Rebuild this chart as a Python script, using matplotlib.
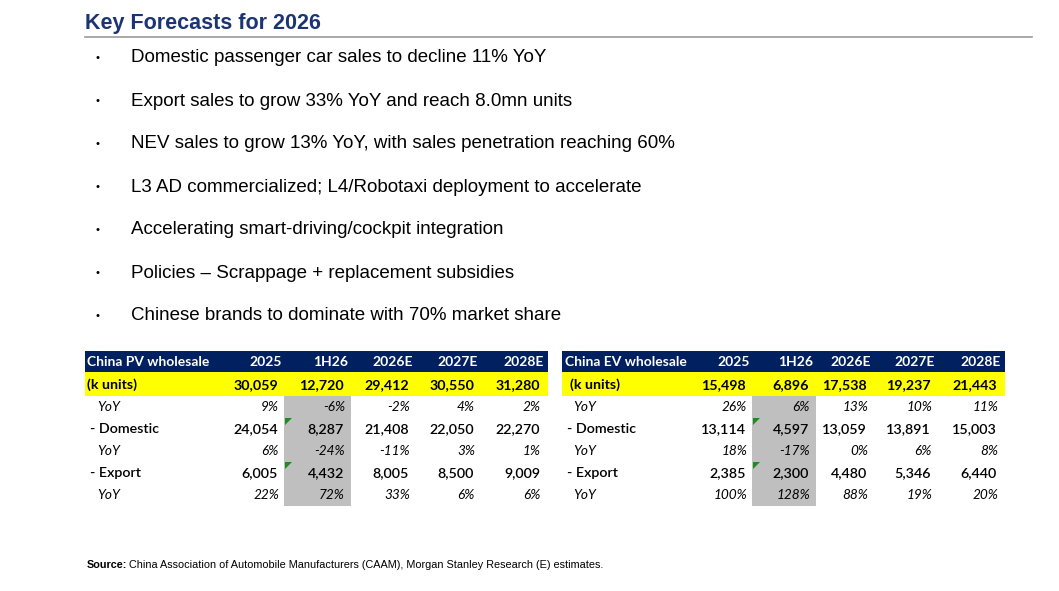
import matplotlib
matplotlib.use('Agg')
import matplotlib.pyplot as plt
from matplotlib.patches import Rectangle, Polygon

title = 'Key Forecasts for 2026'
bullets = [
    'Domestic passenger car sales to decline 11% YoY',
    'Export sales to grow 33% YoY and reach 8.0mn units',
    'NEV sales to grow 13% YoY, with sales penetration reaching 60%',
    'L3 AD commercialized; L4/Robotaxi deployment to accelerate',
    'Accelerating smart-driving/cockpit integration',
    'Policies \u2013 Scrappage + replacement subsidies',
    'Chinese brands to dominate with 70% market share',
]

periods = ['2025', '1H26', '2026E', '2027E', '2028E']

# China PV wholesale (k units)
pv_total = [30059, 12720, 29412, 30550, 31280]
pv_total_yoy = [9, -6, -2, 4, 2]
pv_dom = [24054, 8287, 21408, 22050, 22270]
pv_dom_yoy = [6, -24, -11, 3, 1]
pv_exp = [6005, 4432, 8005, 8500, 9009]
pv_exp_yoy = [22, 72, 33, 6, 6]

# China EV wholesale (k units)
ev_total = [15498, 6896, 17538, 19237, 21443]
ev_total_yoy = [26, 6, 13, 10, 11]
ev_dom = [13114, 4597, 13059, 13891, 15003]
ev_dom_yoy = [18, -17, 0, 6, 8]
ev_exp = [2385, 2300, 4480, 5346, 6440]
ev_exp_yoy = [100, 128, 88, 19, 20]

source_bold = 'Source:'
source_rest = 'China Association of Automobile Manufacturers (CAAM), Morgan Stanley Research (E) estimates.'

NAVY = '#002060'
TFONT = 'Lato'

fig = plt.figure(figsize=(10.59, 5.91), dpi=100)
ax = fig.add_axes([0, 0, 1, 1])
ax.set_xlim(0, 1059)
ax.set_ylim(591, 0)
ax.axis('off')

# title + rule
ax.text(85, 24, title, fontsize=15.5, fontweight='bold', color='#1B3473',
        family=['Liberation Sans Narrow', 'Liberation Sans'], va='center', ha='left')
ax.plot([85, 1032], [37, 37], color='#9A9A9A', lw=1.2)

# bullets
for i, b in enumerate(bullets):
    y = 58 + i * 43
    ax.text(97, y, '\u2022', fontsize=8, family='Liberation Sans', va='center', ha='center')
    ax.text(131, y, b, fontsize=13.5, family='Liberation Sans', va='center', ha='left')


def draw_table(x0, x1, rights, gray, name, lx, rows):
    # header bar, yellow total row, grey 1H26 column
    ax.add_patch(Rectangle((x0, 351), x1 - x0, 21, color=NAVY, lw=0))
    ax.add_patch(Rectangle((x0, 372), x1 - x0, 24, color='#FFFF00', lw=0))
    ax.add_patch(Rectangle((gray[0], 396), gray[1] - gray[0], 110, color='#BFBFBF', lw=0))
    ax.text(lx[0], 362, name, color='white', fontweight='bold', fontsize=10,
            family=TFONT, va='center', ha='left')
    for r, p in zip(rights, periods):
        ax.text(r, 362, p, color='white', fontweight='bold', fontsize=10,
                family=TFONT, va='center', ha='right')
    ys = [385, 407, 429, 451, 473, 495]
    for (label, vals, kind), y in zip(rows, ys):
        if kind == 'total':
            ax.text(lx[1], y, label, fontweight='bold', fontsize=10.3, family=TFONT,
                    va='center', ha='left')
            for r, v in zip(rights, vals):
                ax.text(r - 4, y, f'{v:,}', fontweight='bold', fontsize=10.3,
                        family=TFONT, va='center', ha='right')
        elif kind == 'yoy':
            ax.text(lx[2], y, label, style='italic', fontsize=9.8, family=TFONT,
                    va='center', ha='left')
            for r, v in zip(rights, vals):
                ax.text(r - 3, y, f'{v}%', style='italic', fontsize=9.8,
                        family=TFONT, va='center', ha='right')
        else:
            ax.text(lx[3], y, label, fontsize=10.3, fontweight='semibold', family=TFONT,
                    va='center', ha='left')
            for r, v in zip(rights, vals):
                ax.text(r - 4, y, f'{v:,}', fontsize=10.3, fontweight='semibold',
                        family=TFONT, va='center', ha='right')
            gx = gray[0] + 1
            top = y - 11
            ax.add_patch(Polygon([(gx, top), (gx + 7, top), (gx, top + 7)],
                                 closed=True, color='#1E8C1E', lw=0))


pv_rows = [('(k units)', pv_total, 'total'), ('YoY', pv_total_yoy, 'yoy'),
           ('- Domestic', pv_dom, 'num'), ('YoY', pv_dom_yoy, 'yoy'),
           ('- Export', pv_exp, 'num'), ('YoY', pv_exp_yoy, 'yoy')]
ev_rows = [('(k units)', ev_total, 'total'), ('YoY', ev_total_yoy, 'yoy'),
           ('- Domestic', ev_dom, 'num'), ('YoY', ev_dom_yoy, 'yoy'),
           ('- Export', ev_exp, 'num'), ('YoY', ev_exp_yoy, 'yoy')]

draw_table(85, 548, [282, 348, 413, 478, 544], (284, 351), 'China PV wholesale',
           (87, 87, 97, 90), pv_rows)
draw_table(562, 1005, [750, 813, 871, 935, 1001], (752, 816), 'China EV wholesale',
           (565, 570, 573, 567), ev_rows)

# source
ax.text(87, 565, source_bold, fontsize=7.8, fontweight='bold', family='Liberation Sans',
        va='center', ha='left')
ax.text(129, 565, source_rest, fontsize=7.8, family='Liberation Sans', va='center', ha='left')

fig.savefig('out.png', dpi=100)
